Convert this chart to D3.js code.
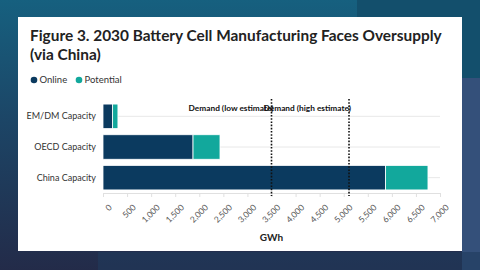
<!DOCTYPE html>
<html>
<head>
<meta charset="utf-8">
<script src="https://cdn.jsdelivr.net/npm/d3@7"></script>
<style>
  html, body { margin: 0; padding: 0; }
  body { width: 480px; height: 270px; overflow: hidden; }
  text { font-family: "Lato", "Noto Sans", sans-serif; }
</style>
</head>
<body>
<div id="viz"></div>
<script>
// chart data (GWh, 2030)
const categories = ["EM/DM Capacity", "OECD Capacity", "China Capacity"];
const onlineValues = [200, 1870, 5870];
const potentialValues = [110, 560, 880];
const seriesNames = ["Online", "Potential"];
const demandLabels = ["Demand (low estimate)", "Demand (high estimate)"];
const demandValues = [3500, 5110];
const xTicks = [0, 500, 1000, 1500, 2000, 2500, 3000, 3500, 4000, 4500, 5000, 5500, 6000, 6500, 7000];

const width = 480, height = 270;
const colors = { Online: "#0b3a5f", Potential: "#12a89c" };

let svg = d3.select("#viz")
  .append("svg")
    .attr("width", width)
    .attr("height", height);

// background
let defs = svg.append("defs");
let grad = defs.append("linearGradient")
  .attr("id", "bg").attr("x1", 0).attr("y1", 0).attr("x2", 0).attr("y2", 1);
grad.append("stop").attr("offset", "0%").attr("stop-color", "#16607f");
grad.append("stop").attr("offset", "45%").attr("stop-color", "#1c4566");
grad.append("stop").attr("offset", "100%").attr("stop-color", "#232b49");
svg.append("rect").attr("width", width).attr("height", height).attr("fill", "url(#bg)");
svg.append("rect").attr("x", 357).attr("y", 0).attr("width", 123).attr("height", 78).attr("fill", "#134f6c");
svg.append("rect").attr("x", 462).attr("y", 78).attr("width", 18).attr("height", 192).attr("fill", "#34507a");
svg.append("rect").attr("x", 98).attr("y", 252).attr("width", 382).attr("height", 18).attr("fill", "#1f3a5c").attr("opacity", 0.6);

// white card
svg.append("rect")
  .attr("x", 18).attr("y", 17)
  .attr("width", 444).attr("height", 234)
  .attr("fill", "#ffffff");

// title
let title = svg.append("text")
  .attr("x", 30).attr("y", 41)
  .attr("font-size", 15.4)
  .attr("font-weight", "bold")
  .attr("fill", "#222");
title.append("tspan").attr("x", 30).text("Figure 3. 2030 Battery Cell Manufacturing Faces Oversupply");
title.append("tspan").attr("x", 30).attr("dy", 19).text("(via China)");

// legend
let legend = svg.append("g").attr("transform", "translate(34,80)");
let legendX = [0, 45];
seriesNames.forEach((name, i) => {
  let g = legend.append("g").attr("transform", "translate(" + legendX[i] + ",0)");
  g.append("circle").attr("r", 3.3).attr("fill", colors[name]);
  g.append("text").attr("x", 5.5).attr("y", 3.2).attr("font-size", 9.5).attr("fill", "#333").text(name);
});

// scales
let xScale = d3.scaleLinear()
  .domain([0, 7000])
  .range([103, 440]);
let yScale = d3.scaleBand()
  .domain(categories)
  .range([101, 193])
  .paddingInner(0.2)
  .paddingOuter(0.1);

// grid lines at category centres
svg.append("g")
  .selectAll("line")
  .data(categories)
  .enter()
    .append("line")
    .attr("x1", xScale(0))
    .attr("x2", xScale(7000))
    .attr("y1", d => yScale(d) + yScale.bandwidth() / 2)
    .attr("y2", d => yScale(d) + yScale.bandwidth() / 2)
    .attr("stroke", "#e8e8e8");

// x axis
let xAxisG = svg.append("g")
  .attr("transform", "translate(0,193)")
  .call(d3.axisBottom(xScale)
    .tickValues(xTicks)
    .tickFormat(d3.format(","))
    .tickSize(4)
  );
xAxisG.select(".domain").attr("stroke", "#e0e0e0");
xAxisG.selectAll(".tick line").attr("stroke", "#e0e0e0");
xAxisG.selectAll(".tick text")
  .attr("font-family", "Lato, 'Noto Sans', sans-serif")
  .attr("font-size", 8.5)
  .attr("fill", "#555")
  .attr("text-anchor", "end")
  .attr("dy", 0)
  .attr("transform", "translate(4,10) rotate(-45)");

// x axis label
svg.append("text")
  .attr("x", xScale(3500))
  .attr("y", 241)
  .attr("text-anchor", "middle")
  .attr("font-size", 10)
  .attr("font-weight", "bold")
  .attr("fill", "#222")
  .text("GWh");

// y labels
svg.append("g")
  .selectAll("text")
  .data(categories)
  .enter()
    .append("text")
    .attr("x", 96)
    .attr("y", d => yScale(d) + yScale.bandwidth() / 2 + 3)
    .attr("text-anchor", "end")
    .attr("font-size", 9)
    .attr("fill", "#333")
    .text(d => d);

// stacked bars
let barData = categories.map((c, i) => ({ cat: c, Online: onlineValues[i], Potential: potentialValues[i] }));
let stacked = d3.stack().keys(seriesNames)(barData);
svg.append("g")
  .selectAll("g")
  .data(stacked)
  .enter()
    .append("g")
    .attr("fill", d => colors[d.key])
    .selectAll("rect")
    .data(d => d)
    .enter()
      .append("rect")
      .attr("x", d => xScale(d[0]))
      .attr("y", d => yScale(d.data.cat))
      .attr("width", d => xScale(d[1]) - xScale(d[0]))
      .attr("height", yScale.bandwidth())
      .attr("stroke", "#fff")
      .attr("stroke-width", 0.8);

// demand lines
let demand = svg.append("g");
demandValues.forEach((v, i) => {
  demand.append("line")
    .attr("x1", xScale(v)).attr("x2", xScale(v))
    .attr("y1", 99).attr("y2", 196)
    .attr("stroke", "#111")
    .attr("stroke-width", 1.6)
    .attr("stroke-dasharray", "1.6,1.6");
  demand.append("text")
    .attr("x", xScale(v) + 2)
    .attr("y", 110.5)
    .attr("text-anchor", "end")
    .attr("font-size", 8.3)
    .attr("font-weight", "bold")
    .attr("fill", "#111")
    .text(demandLabels[i]);
});
</script>
</body>
</html>
